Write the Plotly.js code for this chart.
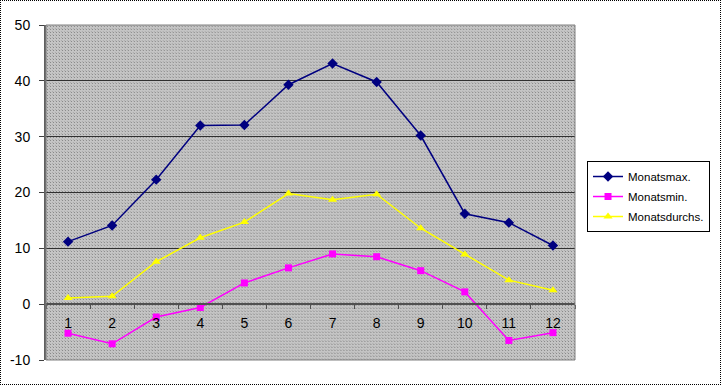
<!DOCTYPE html>
<html>
<head>
<meta charset="utf-8">
<script src="https://cdn.plot.ly/plotly-3.0.1.min.js"></script>
<style>
html,body{margin:0;padding:0;background:#fff;}
#wrap{position:relative;width:721px;height:385px;}
#chart{width:721px;height:385px;}
#frame{position:absolute;left:0;top:0;width:719px;height:383px;border:1px dotted #000;pointer-events:none;}
</style>
</head>
<body>
<div id="wrap"><div id="chart"></div><div id="frame"></div></div>
<script>
const months = ['1','2','3','4','5','6','7','8','9','10','11','12'];
const seriesNames = ['Monatsmax.', 'Monatsmin.', 'Monatsdurchs.'];
const monatsMax = [11.2, 14.1, 22.3, 32.0, 32.1, 39.3, 43.1, 39.8, 30.2, 16.2, 14.6, 10.5];
const monatsMin = [-5.2, -7.1, -2.3, -0.6, 3.8, 6.5, 9.0, 8.5, 6.0, 2.2, -6.5, -5.1];
const monatsDurchs = [1.1, 1.4, 7.6, 11.9, 14.7, 19.8, 18.7, 19.7, 13.6, 8.9, 4.3, 2.5];
const yTicks = [-10, 0, 10, 20, 30, 40, 50];

const font = 'Arial, "Liberation Sans", sans-serif';

const pattern = '<svg xmlns="http://www.w3.org/2000/svg" width="530" height="335">' +
  '<defs><pattern id="p" width="3" height="3" patternUnits="userSpaceOnUse">' +
  '<rect width="3" height="3" fill="#c4c4c4"/><rect x="1" y="1" width="1" height="1" fill="#888888"/>' +
  '<rect x="0" y="0" width="1" height="1" fill="#ababab"/></pattern></defs>' +
  '<rect width="530" height="335" fill="url(#p)"/></svg>';

const traces = [
  {x: months, y: monatsMax, name: seriesNames[0], legendgroup: 'a', type: 'scatter', mode: 'lines+markers',
   line: {color: '#000080', width: 1.5}, marker: {symbol: 'diamond', size: 8, color: '#000080'}},
  {x: months, y: monatsMin, name: seriesNames[1], legendgroup: 'b', type: 'scatter', mode: 'lines+markers',
   line: {color: '#FF00FF', width: 1.5}, marker: {symbol: 'square', size: 7, color: '#FF00FF'}},
  {x: months, y: monatsDurchs, name: seriesNames[2], legendgroup: 'c', type: 'scatter', mode: 'lines+markers',
   line: {color: '#FFFF00', width: 1.5}, marker: {symbol: 'triangle-up', size: 8, color: '#FFFF00'}}
];

const layout = {
  width: 721, height: 385,
  margin: {l: 46, r: 145, t: 25, b: 25, pad: 0},
  paper_bgcolor: '#ffffff',
  plot_bgcolor: '#c0c0c0',
  font: {family: font, size: 14, color: '#000'},
  showlegend: true,
  legend: {
    x: 1.0208, xanchor: 'left', y: 0.594, yanchor: 'top',
    bgcolor: '#ffffff', bordercolor: '#000', borderwidth: 1,
    font: {family: font, size: 11.5, color: '#000'},
    tracegroupgap: 1, itemwidth: 30
  },
  xaxis: {
    type: 'category', categoryorder: 'array', categoryarray: months,
    range: [-0.5, 11.5],
    anchor: 'free', position: 1/6,
    showline: true, linecolor: '#505050', linewidth: 2,
    ticks: 'outside', tickson: 'boundaries', ticklen: 4, tickcolor: '#505050', tickwidth: 1,
    showgrid: false, zeroline: false,
    ticklabelstandoff: 6,
    tickfont: {family: font, size: 14, color: '#000'},
    fixedrange: true
  },
  yaxis: {
    range: [-10, 50], tickvals: yTicks, ticktext: yTicks.map(String),
    showline: true, linecolor: '#606060', linewidth: 2,
    ticks: 'outside', ticklen: 5, tickcolor: '#404040',
    showgrid: true, gridcolor: '#303030', gridwidth: 1,
    zeroline: false,
    tickfont: {family: font, size: 14, color: '#000'},
    ticklabelstandoff: 6,
    fixedrange: true
  },
  images: [{
    source: 'data:image/svg+xml;charset=utf-8,' + encodeURIComponent(pattern),
    xref: 'paper', yref: 'paper', x: 0, y: 1, sizex: 1, sizey: 1,
    sizing: 'stretch', xanchor: 'left', yanchor: 'top', layer: 'below'
  }],
  shapes: [{
    type: 'rect', xref: 'paper', yref: 'paper', x0: 0, x1: 1, y0: 0, y1: 1,
    line: {color: '#808080', width: 1}, fillcolor: 'rgba(0,0,0,0)'
  }]
};

Plotly.newPlot('chart', traces, layout, {displayModeBar: false, staticPlot: true});
</script>
</body>
</html>
